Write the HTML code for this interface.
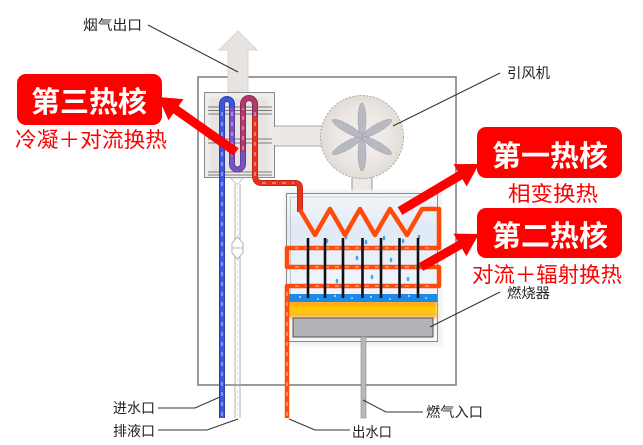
<!DOCTYPE html>
<html><head><meta charset="utf-8"><style>
html,body{margin:0;padding:0;background:#fff;}
svg{display:block;}
.lbl{font-family:"Liberation Sans","Noto Sans CJK SC",sans-serif;font-size:14px;fill:#222;}
.ttl{font-family:"Liberation Sans","Noto Sans CJK SC",sans-serif;font-size:29px;font-weight:bold;fill:#fff;}
.sub{font-family:"Liberation Sans","Noto Sans CJK SC",sans-serif;font-size:21px;fill:#f00;}
</style></head><body>
<svg width="643" height="445" viewBox="0 0 643 445" xmlns="http://www.w3.org/2000/svg">
<defs>
<filter id="soft" x="-10%" y="-10%" width="120%" height="120%"><feGaussianBlur stdDeviation="1.2"/></filter>
<linearGradient id="cham" x1="0" y1="0" x2="0" y2="1">
<stop offset="0" stop-color="#f3f6fa"/><stop offset="0.25" stop-color="#dfeaf6"/><stop offset="0.6" stop-color="#eef4fa"/><stop offset="1" stop-color="#f4f7fb"/>
</linearGradient>
<linearGradient id="flame" x1="0" y1="0" x2="0" y2="1">
<stop offset="0" stop-color="#ff9a10"/><stop offset="0.45" stop-color="#ffd000"/><stop offset="0.8" stop-color="#ffb030"/><stop offset="1" stop-color="#fff0e0" stop-opacity="0.3"/>
</linearGradient>
<radialGradient id="fanfill" cx="0.5" cy="0.5" r="0.5">
<stop offset="0" stop-color="#f4f2f0"/><stop offset="0.7" stop-color="#ebe6e2"/><stop offset="1" stop-color="#e2dcd6"/>
</radialGradient>
</defs>

<!-- outer housing -->
<rect x="198" y="77" width="258" height="308" fill="#fff" stroke="#7a7a7a" stroke-width="1.5"/>

<!-- flue arrow -->
<polygon points="238,31 257,50 248,50 248,95 228,95 228,50 219,50" fill="#e6e3e0" stroke="#d8d4d0" stroke-width="1"/>
<!-- duct to fan -->
<rect x="272" y="126" width="54" height="20" fill="#ebe8e5"/>
<line x1="275" y1="126" x2="324" y2="126" stroke="#aaa" stroke-width="1"/>
<line x1="275" y1="146" x2="322" y2="146" stroke="#aaa" stroke-width="1"/>

<!-- condenser box -->
<rect x="204.5" y="92.5" width="70" height="85" fill="#efedeb" stroke="#8a8a8a" stroke-width="1"/>
<rect x="210" y="98" width="58" height="74" fill="#e7e3df" filter="url(#soft)"/>
<rect x="273" y="127" width="4" height="18" fill="#ebe8e5"/>
<g stroke="#555" stroke-width="0.8">
<line x1="208" y1="107" x2="272" y2="107"/><line x1="208" y1="110.5" x2="272" y2="110.5"/><line x1="208" y1="114" x2="272" y2="114"/>
<line x1="208" y1="139" x2="272" y2="139"/><line x1="208" y1="143" x2="272" y2="143"/>
<line x1="208" y1="172" x2="272" y2="172"/><line x1="208" y1="175" x2="272" y2="175"/>
</g>
<!-- small funnel below condenser -->
<polygon points="231,178 243,178 238,184 236,184" fill="#fff" stroke="#bbb" stroke-width="0.8"/>

<!-- fan -->
<rect x="352" y="174" width="20" height="21" fill="#ece9e6" stroke="#999" stroke-width="1"/>
<circle cx="362" cy="137" r="41.5" fill="url(#fanfill)" stroke="#aaa" stroke-width="1" stroke-dasharray="2,1.5"/>
<g fill="#b9b9c2" stroke="#8f8f98" stroke-width="0.6" stroke-dasharray="1.5,1">
<ellipse cx="362" cy="120" rx="4" ry="17"/>
<ellipse cx="362" cy="154" rx="4" ry="17"/>
<ellipse cx="362" cy="120" rx="4" ry="17" transform="rotate(60 362 137)"/>
<ellipse cx="362" cy="154" rx="4" ry="17" transform="rotate(60 362 137)"/>
<ellipse cx="362" cy="120" rx="4" ry="17" transform="rotate(-60 362 137)"/>
<ellipse cx="362" cy="154" rx="4" ry="17" transform="rotate(-60 362 137)"/>
</g>

<!-- combustion chamber -->
<rect x="284" y="190" width="158" height="156" fill="#f2f2f2" filter="url(#soft)"/>
<rect x="286.5" y="193.5" width="151" height="148" fill="url(#cham)" stroke="#8a8a8a" stroke-width="1"/>
<line x1="290.5" y1="197" x2="290.5" y2="295" stroke="#bbb" stroke-width="0.8"/>
<line x1="290.5" y1="197" x2="434" y2="197" stroke="#bbb" stroke-width="0.8"/>
<!-- flame -->
<rect x="287" y="301" width="150" height="19" fill="url(#flame)" filter="url(#soft)"/>
<!-- water strip -->
<rect x="287" y="294" width="150" height="8" fill="#1e8ae8"/>
<g fill="#fff">
<circle cx="300" cy="297" r="0.9"/><circle cx="318" cy="299" r="0.8"/><circle cx="335" cy="296" r="0.9"/><circle cx="352" cy="298" r="0.8"/><circle cx="371" cy="297" r="0.9"/><circle cx="390" cy="299" r="0.8"/><circle cx="409" cy="296" r="0.9"/><circle cx="426" cy="298" r="0.8"/>
</g>
<!-- droplets -->
<g fill="#4aa0e8">
<ellipse cx="327" cy="241" rx="1.3" ry="2.3"/><ellipse cx="346" cy="237" rx="1.3" ry="2.3"/><ellipse cx="366" cy="242" rx="1.3" ry="2.3"/><ellipse cx="384" cy="238" rx="1.3" ry="2.3"/><ellipse cx="403" cy="241" rx="1.3" ry="2.3"/><ellipse cx="419" cy="237" rx="1.3" ry="2.3"/>
<ellipse cx="357" cy="258" rx="1.3" ry="2.3"/><ellipse cx="391" cy="260" rx="1.3" ry="2.3"/><ellipse cx="308" cy="274" rx="1.3" ry="2.3"/><ellipse cx="372" cy="277" rx="1.3" ry="2.3"/><ellipse cx="408" cy="279" rx="1.3" ry="2.3"/><ellipse cx="337" cy="281" rx="1.3" ry="2.3"/>
</g>
<!-- burner -->
<rect x="293" y="318" width="140" height="19" fill="#b3b3b8" stroke="#555" stroke-width="1"/>
<!-- gas pipe -->
<rect x="361" y="337" width="5" height="81" fill="#b8b8bc" stroke="#888" stroke-width="0.6"/>

<!-- drain pipe -->
<line x1="235" y1="184" x2="235" y2="418" stroke="#aaa" stroke-width="0.9"/>
<line x1="240" y1="184" x2="240" y2="418" stroke="#aaa" stroke-width="0.9"/>
<line x1="237.5" y1="186" x2="237.5" y2="416" stroke="#ccc" stroke-width="0.6" stroke-dasharray="3,3"/>
<polygon points="237.5,237 243,243 243,253 237.5,259 232,253 232,243" fill="#fff" stroke="#aaa" stroke-width="0.9"/>
<line x1="232" y1="248" x2="243" y2="248" stroke="#aaa" stroke-width="0.8"/>

<!-- water tubes -->
<g fill="none" stroke-linecap="butt" stroke-linejoin="round">
<path d="M222,418 L222,104 A5,5 0 0 1 232,104 L232,110" stroke="#2d3fae" stroke-width="6"/>
<path d="M222,418 L222,104 A5,5 0 0 1 232,104 L232,110" stroke="#3b56e0" stroke-width="4"/>
<path d="M232,108 L232,164 A5.5,5.5 0 0 0 243,164 L243,150" stroke="#5a3e9a" stroke-width="6"/>
<path d="M232,108 L232,164 A5.5,5.5 0 0 0 243,164 L243,150" stroke="#7a52c0" stroke-width="4"/>
<path d="M243,152 L243,104 A6,6 0 0 1 255,104 L255,120" stroke="#8a2a58" stroke-width="6"/>
<path d="M243,152 L243,104 A6,6 0 0 1 255,104 L255,120" stroke="#b23a6a" stroke-width="4"/>
<path d="M255,118 L255,176 Q255,183 262,183 L295,183 Q300,183 300,188 L300,212" stroke="#c0281c" stroke-width="6"/>
<path d="M255,118 L255,176 Q255,183 262,183 L295,183 Q300,183 300,188 L300,212" stroke="#e8321e" stroke-width="4"/>
<path d="M300,210 L315,235 L330,209 L345,235 L360,209 L375,235 L390,209 L407,235 L422,209 L439,209 L439,248 L287,248 L287,267 L439,267 L439,286 L287,286 L287,418" stroke="#ff4a0a" stroke-width="4.5"/>
</g>
<g fill="none" stroke="#fff" stroke-width="0.8" stroke-dasharray="4,6" opacity="0.9">
<path d="M222,416 L222,106"/><path d="M232,112 L232,162"/><path d="M243,150 L243,108"/><path d="M255,112 L255,176 M262,183 L294,183"/>
<path d="M287,416 L287,290"/><path d="M295,248 L435,248"/><path d="M295,267 L435,267"/><path d="M295,286 L435,286"/>
</g>
<!-- fins -->
<g stroke="#111" stroke-width="2.6">
<line x1="308" y1="238" x2="308" y2="298"/><line x1="325" y1="238" x2="325" y2="298"/><line x1="343" y1="238" x2="343" y2="298"/><line x1="362.5" y1="238" x2="362.5" y2="298"/><line x1="381" y1="238" x2="381" y2="298"/><line x1="399.5" y1="238" x2="399.5" y2="298"/><line x1="418" y1="238" x2="418" y2="298"/>
</g>

<!-- leader lines -->
<g stroke="#333" stroke-width="1" fill="none">
<line x1="148" y1="25" x2="238" y2="72"/>
<line x1="500" y1="73" x2="393" y2="126"/>
<line x1="500" y1="292" x2="430" y2="327"/>
<polyline points="363,400 386,412 423,412"/>
<polyline points="289,419 315,430 350,430"/>
<polyline points="158,408 195,408 220,397"/>
<polyline points="158,430 207,430 238,419"/>
</g>

<!-- labels -->
<text class="lbl" x="83" y="30" textLength="59" lengthAdjust="spacingAndGlyphs">烟气出口</text>
<text class="lbl" x="507" y="78" textLength="43" lengthAdjust="spacingAndGlyphs">引风机</text>
<text class="lbl" x="507" y="298" textLength="43" lengthAdjust="spacingAndGlyphs">燃烧器</text>
<text class="lbl" x="426" y="417" textLength="57" lengthAdjust="spacingAndGlyphs">燃气入口</text>
<text class="lbl" x="352" y="437" textLength="40" lengthAdjust="spacingAndGlyphs">出水口</text>
<text class="lbl" x="113" y="413" textLength="42" lengthAdjust="spacingAndGlyphs">进水口</text>
<text class="lbl" x="113" y="436" textLength="42" lengthAdjust="spacingAndGlyphs">排液口</text>

<!-- red arrows -->
<g fill="#ff0000">
<polygon points="238.6,148.3 178.6,106.0 183.5,99.1 158,97 168.5,120.3 173.4,113.4 233.4,155.7"/>
<polygon points="402.3,214.9 462.4,179.2 466.7,186.5 479,164 453.5,164.1 457.8,171.4 397.7,207.1"/>
<polygon points="423.2,270.9 462.1,248.8 466.3,256.2 479,234 453.5,233.6 457.7,241.0 418.8,263.1"/>
</g>

<!-- callout boxes -->
<rect x="17" y="74" width="145" height="51" rx="9" fill="#ff0000"/>
<text class="ttl" x="31" y="112" textLength="116" lengthAdjust="spacingAndGlyphs">第三热核</text>
<text class="sub" x="15" y="147" textLength="152" lengthAdjust="spacingAndGlyphs">冷凝＋对流换热</text>

<rect x="477" y="127" width="145" height="51" rx="9" fill="#ff0000"/>
<text class="ttl" x="492" y="166" textLength="116" lengthAdjust="spacingAndGlyphs">第一热核</text>
<text class="sub" x="508" y="201" textLength="90" lengthAdjust="spacingAndGlyphs">相变换热</text>

<rect x="477" y="208" width="145" height="50" rx="9" fill="#ff0000"/>
<text class="ttl" x="492" y="246" textLength="116" lengthAdjust="spacingAndGlyphs">第二热核</text>
<text class="sub" x="472" y="282" textLength="150" lengthAdjust="spacingAndGlyphs">对流＋辐射换热</text>
</svg>
</body></html>
